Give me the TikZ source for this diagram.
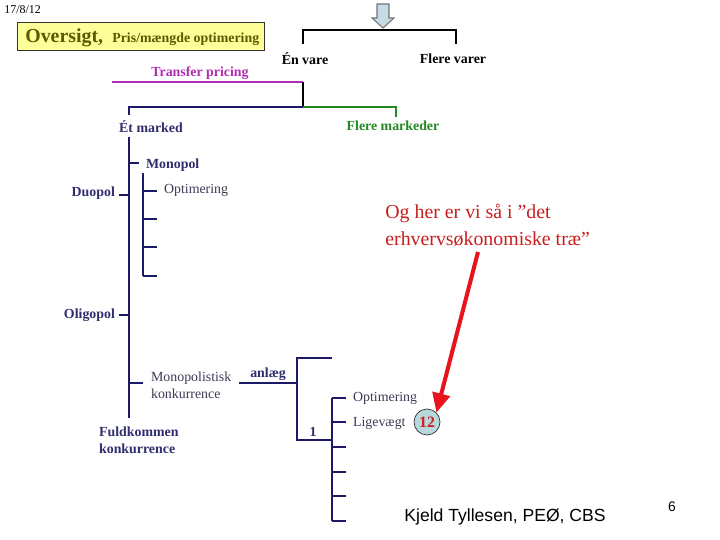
\documentclass[tikz,border=0pt]{standalone}
\usepackage{fontspec}
\setmainfont{Liberation Serif}
\setsansfont{Liberation Sans}
\usetikzlibrary{arrows.meta,positioning}
\definecolor{treeblue}{HTML}{1C1A66}
\definecolor{treetext}{HTML}{2F2D6E}
\definecolor{plaintext}{HTML}{3B3B55}
\definecolor{titlefill}{HTML}{FFFF99}
\definecolor{titleolive}{HTML}{5A5A00}
\definecolor{tpmagenta}{HTML}{B02CB0}
\definecolor{mktgreen}{HTML}{238A23}
\definecolor{notered}{HTML}{C81E1E}
\definecolor{arrowred}{HTML}{E8141C}
\definecolor{badgefill}{HTML}{B8D8DC}
\definecolor{downfill}{HTML}{C6DCE4}
\tikzset{
  treelabel/.style={
    font=\fontsize{7.9}{9.6}\selectfont\bfseries,
    text=treetext,
    inner sep=1pt,
    align=left
  },
  plainlabel/.style={treelabel, font=\fontsize{7.9}{9.6}\selectfont, text=plaintext},
  treeline/.style={draw=treeblue, line width=0.8pt},
  redarrow/.style={-{Triangle[length=11pt,width=10pt]}, line width=2.3pt, draw=arrowred}
}

\begin{document}
\begin{tikzpicture}[x=0.02cm, y=-0.02cm]
\useasboundingbox (0,0) rectangle (720,540);
% header
\node[anchor=west, inner sep=0pt, font=\fontsize{6.8}{8}\selectfont] (date) at (4,10) {17/8/12};
\node[draw=black!80, fill=titlefill, anchor=north west, minimum width=4.94cm, minimum height=0.56cm, inner sep=0pt] (title) at (17,22) {};
\node[anchor=base west, inner sep=0pt, text=titleolive, font=\fontsize{11.3}{13}\selectfont\bfseries] (over) at (25,43) {Oversigt,};
\node[anchor=base west, inner sep=0pt, text=titleolive, font=\fontsize{7.9}{9}\selectfont\bfseries] (pris) at (112,43) {Pris/mængde optimering};
\draw[draw=black!55, fill=downfill, line width=0.6pt] (377,4) -- (389,4) -- (389,18) -- (394,18) -- (383,28) -- (372,18) -- (377,18) -- cycle;
% labels
\node[treelabel, text=black] (envare) at (305,59) {Én vare};
\node[treelabel, text=black] (flerevarer) at (453,59) {Flere varer};
\node[treelabel, text=tpmagenta] (transfer) at (200,73) {Transfer pricing};
\node[treelabel] (etmarked) at (151,127) {Ét marked};
\node[treelabel, text=mktgreen] (fleremkt) at (393,126) {Flere markeder};
\node[treelabel, anchor=west] (monopol) at (144,165) {Monopol};
\node[plainlabel, anchor=west] (optim) at (162,190) {Optimering};
\node[treelabel, anchor=east] (duopol) at (117,193) {Duopol};
\node[treelabel, anchor=east] (oligopol) at (117,315) {Oligopol};
\node[plainlabel, anchor=west] (monkonk) at (149,385) {Monopolistisk\\konkurrence};
\node[treelabel, anchor=west] (fuldkonk) at (97,440) {Fuldkommen\\konkurrence};
\node[treelabel] (anlaeg) at (268,374) {anlæg};
\node[treelabel] (one) at (313,432) {1};
\node[plainlabel, anchor=west] (optimb) at (351,398) {Optimering};
\node[plainlabel, anchor=west] (ligev) at (351,423) {Ligevægt};
\node[circle, draw=black!80, fill=badgefill, minimum size=0.52cm, inner sep=0pt, text=notered, font=\fontsize{9}{10}\selectfont\bfseries] (badge) at (427,422) {12};
\node[anchor=west, inner sep=0pt, align=left, text=notered, font=\fontsize{11.3}{15.3}\selectfont] (ogher) at (385,225) {Og her er vi så i ”det\\erhvervsøkonomiske træ”};
\node[inner sep=0pt, font=\sffamily\fontsize{10}{12}\selectfont] (author) at (505,517) {Kjeld Tyllesen, PEØ, CBS};
\node[inner sep=0pt, font=\sffamily\fontsize{7.9}{9}\selectfont] (page) at (672,507) {6};
% junctions
\coordinate (envtop) at (303,44);
\coordinate (flvtop) at (456,44);
\coordinate (tpend) at (112,82);
\coordinate (vsplit) at (303,82);
\coordinate (msplit) at (303,107);
\coordinate (etcorner) at (129,107);
\coordinate (flcorner) at (396,107);
\coordinate (anlsplit) at (297,383);
\coordinate (arrowstart) at (478,252);
% upper tree
\draw[line width=0.8pt] (envtop) -- (303,30) -- (456,30) -- (flvtop);
\draw[draw=tpmagenta, line width=0.8pt] (tpend) -- (vsplit);
\draw[line width=0.8pt] (vsplit) -- (msplit);
\draw[treeline] (msplit) -- (etcorner) -- (129,115);
\draw[draw=mktgreen, line width=0.8pt] (msplit) -- (flcorner) -- (396,117);
% market forms
\draw[treeline] (129,137) -- (129,418);
\draw[treeline] (129,163) -- (139,163);
\draw[treeline] (119,195) -- (129,195);
\draw[treeline] (119,315) -- (129,315);
\draw[treeline] (129,383) -- (143,383);
\draw[treeline] (143,173) -- (143,276);
\foreach \y in {191,219,247,276}
  \draw[treeline] (143,\y) -- (157,\y);
% anlaeg branch
\draw[treeline] (239,383) -- (anlsplit);
\draw[treeline] (332,358) -- (297,358) -- (297,440) -- (332,440);
\draw[treeline] (332,398) -- (332,521);
\foreach \y in {398,422,447,472,496,521}
  \draw[treeline] (332,\y) -- (346,\y);
% pointer
\draw[redarrow] (arrowstart) -- (badge.north east);
\end{tikzpicture}
\end{document}
